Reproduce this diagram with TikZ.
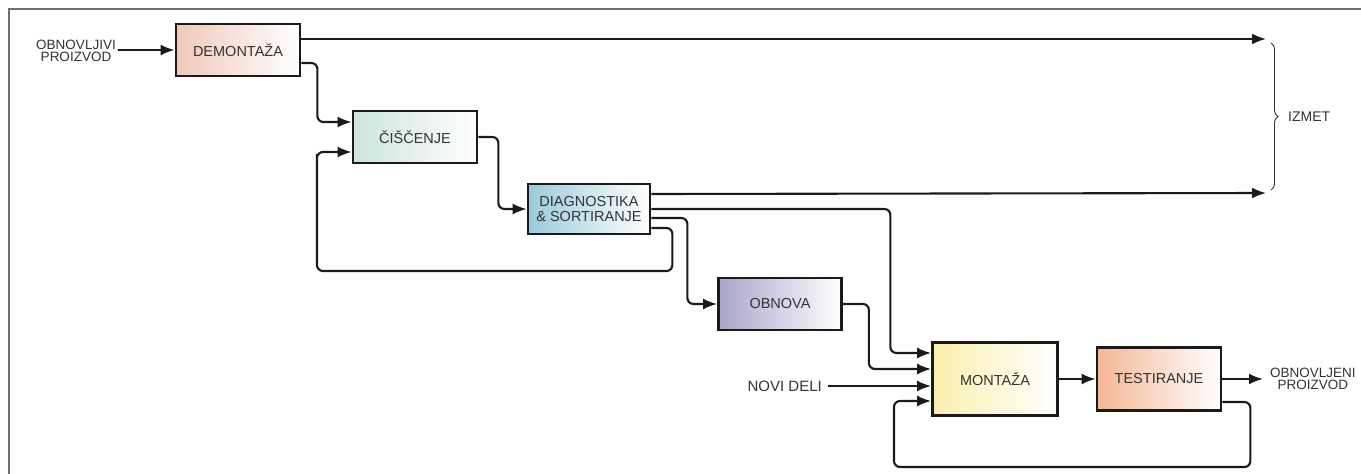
\documentclass[tikz,border=0pt]{standalone}
\usepackage{fontspec}
\setmainfont{Liberation Sans}
\usetikzlibrary{arrows.meta,decorations.pathreplacing}
\definecolor{ink}{HTML}{1A1A1A}
\definecolor{labelgray}{HTML}{333333}
\definecolor{framegray}{HTML}{6E6E6E}
\definecolor{peachbg}{HTML}{F1C9BA}
\definecolor{tealbg}{HTML}{CBE4DD}
\definecolor{bluebg}{HTML}{9ACBDA}
\definecolor{lilacbg}{HTML}{A8A5C9}
\definecolor{yellowbg}{HTML}{FAEFAE}
\definecolor{orangebg}{HTML}{F5B796}
\tikzset{
  flowarr/.style={-{Latex[length=14pt,width=11pt]},line width=2.1pt,color=ink,rounded corners=6pt},
  stagebox/.style={draw=ink,line width=2.8pt,right color=white,align=center,inner sep=2pt,
    text=labelgray,font=\fontsize{14.5}{16}\selectfont},
  peachbox/.style={stagebox,left color=peachbg},
  tealbox/.style={stagebox,left color=tealbg},
  bluebox/.style={stagebox,left color=bluebg},
  lilacbox/.style={stagebox,left color=lilacbg},
  yellowbox/.style={stagebox,left color=yellowbg},
  orangebox/.style={stagebox,left color=orangebg},
  sidetext/.style={align=center,inner sep=2pt,text=labelgray,font=\fontsize{13.5}{12}\selectfont}
}
\begin{document}
\begin{tikzpicture}[x=1pt,y=-1pt]
  \useasboundingbox (0,0) rectangle (1361,474);
  \draw[framegray,line width=1.6pt] (9,474) -- (9,9) -- (1361,9);

  % stages
  \node[peachbox,minimum width=124pt,minimum height=52pt] (demo) at (238,50) {DEMONTAŽA};
  \node[tealbox,minimum width=124pt,minimum height=52pt] (cisc) at (415,137) {ČIŠČENJE};
  \node[bluebox,minimum width=122pt,minimum height=50pt] (diag) at (589,209) {DIAGNOSTIKA\\[-1pt]\& SORTIRANJE};
  \node[lilacbox,minimum width=123pt,minimum height=52pt] (obnova) at (780,304) {OBNOVA};
  \node[yellowbox,minimum width=125pt,minimum height=73pt] (mont) at (995,379) {MONTAŽA};
  \node[orangebox,minimum width=124pt,minimum height=63pt] (test) at (1159,379) {TESTIRANJE};

  % side texts
  \node[sidetext] (inTxt) at (76,51) {OBNOVLJIVI\\PROIZVOD};
  \node[sidetext,anchor=east,font=\fontsize{15}{15}\selectfont,inner sep=6pt] (novi) at (828,386) {NOVI DELI};
  \node[sidetext,anchor=west] (outTxt) at (1268,379) {OBNOVLJENI\\PROIZVOD};
  \node[sidetext,anchor=west,font=\fontsize{14}{14}\selectfont] (izmet) at (1286,117) {IZMET};
  \coordinate (wasteTop) at (1266,39);
  \coordinate (wasteBot) at (1266,193);
  \coordinate (outEnd) at (1263,379);
  \draw[labelgray,line width=0.9pt,decorate,decoration={brace,amplitude=7pt}] (1271,43) -- (1271,190);

  % flow
  \draw[flowarr] (inTxt.east |- demo.west) -- (demo.west);
  \draw[flowarr] ([yshift=11pt]demo.east) -- (wasteTop);
  \draw[flowarr] ([yshift=-13pt]demo.east) -- ++(16,0) |- ([yshift=15pt]cisc.west);
  \draw[flowarr] (cisc.east) -- ++(20,0) |- (diag.west);
  \draw[flowarr] ([yshift=15pt]diag.east) -- (wasteBot);
  \draw[flowarr] ([yshift=0pt]diag.east) -- ++(239,0) |- ([yshift=26pt]mont.west);
  \draw[flowarr] ([yshift=-9pt]diag.east) -- ++(36,0) |- (obnova.west);
  \draw[flowarr] ([yshift=-19pt]diag.east) -- ++(21,0) -- ++(0,43) -| (317,160) |- ([yshift=-15pt]cisc.west);
  \draw[flowarr] (obnova.east) -- ++(26,0) |- ([yshift=10pt]mont.west);
  \draw[flowarr] (novi.east) -- ([yshift=-7pt]mont.west);
  \draw[flowarr] (mont.east) -- (test.west);
  \draw[flowarr] (test.east) -- (outEnd);
  \draw[flowarr] ([yshift=-23pt]test.east) -- ++(28,0) -- ++(0,65) -| (894,420) |- ([yshift=-22pt]mont.west);
\end{tikzpicture}
\end{document}
